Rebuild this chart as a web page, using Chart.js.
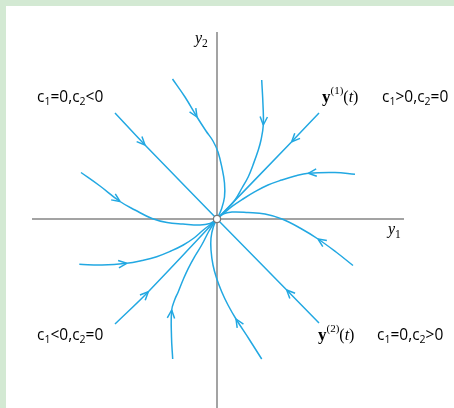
<!DOCTYPE html>
<html>
<head>
<meta charset="utf-8">
<script src="https://cdn.jsdelivr.net/npm/chart.js@4/dist/chart.umd.min.js"></script>
<style>
  html, body { margin: 0; padding: 0; }
  body { width: 454px; height: 408px; background: #d3e9d3; position: relative; overflow: hidden; }
  #wrap { position: absolute; left: 6px; top: 6px; width: 448px; height: 402px; background: #ffffff; }
  canvas { display: block; }
</style>
</head>
<body>
<div id="wrap"><canvas id="c" width="448" height="402"></canvas></div>
<script>
// Phase-plane trajectories of a stable improper node, y' = Ay.
// Each trajectory is a list of [y1, y2] points, ending at the origin.
// The arrowhead sits on the point named by the matching index.

// Eigen-solution lines
const lineY2upper = [[-10.2, 10.6], [-7.2, 7.4], [0, 0]];
const lineY1upper = [[10.2, 10.6], [7.47, 7.73], [0, 0]];
const lineY2lower = [[10.2, -10.4], [6.97, -7.1], [0, 0]];
const lineY1lower = [[-10.2, -10.5], [-6.87, -7.27], [0, 0]];

// Curved trajectories
const curveA = [[-4.45, 14.0], [-3.2, 12.2], [-2.0, 10.2], [-1.1, 8.8], [-0.4, 7.8], [0.1, 6.7], [0.5, 5.1], [0.75, 3.6], [0.75, 2.2], [0.45, 1.0], [0, 0]];
const curveB = [[-13.6, 4.65], [-11.7, 3.3], [-9.7, 1.75], [-8.2, 0.9], [-6.5, 0.05], [-5.0, -0.35], [-3.4, -0.5], [-1.7, -0.6], [-0.7, -0.45], [-0.2, -0.15], [0, 0]];
const curveC = [[4.47, 13.9], [4.6, 11.4], [4.63, 9.4], [4.4, 7.9], [4.13, 6.9], [3.6, 5.4], [3.13, 4.23], [2.5, 3.1], [1.8, 1.9], [1.0, 1.0], [0.4, 0.4], [0, 0]];
const curveD = [[13.8, 4.47], [11.8, 4.65], [9.13, 4.57], [7.8, 4.3], [6.47, 3.9], [5.1, 3.4], [3.8, 2.73], [2.6, 2.0], [1.47, 1.23], [0.6, 0.5], [0, 0]];
const curveE = [[13.6, -4.65], [11.9, -3.3], [10.1, -2.0], [8.3, -0.9], [6.5, 0], [4.8, 0.5], [3.1, 0.65], [1.5, 0.7], [0.6, 0.5], [0, 0]];
const curveF = [[4.47, -14.0], [3.2, -12.0], [1.9, -10.0], [1.1, -8.6], [0.47, -7.27], [-0.05, -5.9], [-0.4, -4.6], [-0.6, -3.1], [-0.6, -1.9], [-0.37, -0.8], [0, 0]];
const curveG = [[-4.43, -14.0], [-4.55, -11.8], [-4.53, -9.1], [-4.2, -8.0], [-3.87, -7.27], [-3.4, -6.1], [-2.87, -4.93], [-2.2, -3.7], [-1.53, -2.6], [-0.8, -1.2], [-0.3, -0.4], [0, 0]];
const curveH = [[-13.77, -4.53], [-11.5, -4.6], [-9.03, -4.43], [-7.5, -4.15], [-6.03, -3.77], [-4.6, -3.2], [-3.37, -2.6], [-2.3, -1.9], [-1.37, -1.1], [-0.6, -0.5], [0, 0]];

const trajectories = [lineY2upper, lineY1upper, lineY2lower, lineY1lower,
                      curveA, curveB, curveC, curveD, curveE, curveF, curveG, curveH];
const arrowIndex = [1, 1, 1, 1, 2, 2, 2, 2, 2, 2, 2, 2];

// Coordinate axes
const axisY1 = [[-18.5, 0], [18.7, 0]];
const axisY2 = [[0, 18.7], [0, -19.5]];
const origin = [[0, 0]];

const TRAJ = '#22a8e2';
const AXIS = '#858585';

const toXY = arr => arr.map(p => ({ x: p[0], y: p[1] }));

const datasets = [];
datasets.push({ data: toXY(origin), showLine: false, pointRadius: 3.6, pointBackgroundColor: '#ffffff',
                pointBorderColor: '#777777', pointBorderWidth: 1.3, order: -1 });
trajectories.forEach((t, k) => {
  datasets.push({ data: toXY(t), showLine: true, borderColor: TRAJ, borderWidth: 1.5,
                  pointRadius: 0, tension: 0.4, fill: false, arrowAt: arrowIndex[k], order: 1 });
});
datasets.push({ data: toXY(axisY1), showLine: true, borderColor: AXIS, borderWidth: 1.5, pointRadius: 0, order: 10 });
datasets.push({ data: toXY(axisY2), showLine: true, borderColor: AXIS, borderWidth: 1.5, pointRadius: 0, order: 10 });

// Text annotations, anchored in data coordinates (left edge, baseline)
const SANS = '"Open Sans", "DejaVu Sans", sans-serif';
const SERIF = '"Liberation Serif", "DejaVu Serif", serif';
const MAIN = '15.5px ' + SANS, SUB = '10.5px ' + SANS;
function caseLabel(op1, op2) {
  return [
    { t: 'c', f: MAIN }, { t: '1', f: SUB, dy: 3 },
    { t: op1 + ',', f: MAIN },
    { t: 'c', f: MAIN }, { t: '2', f: SUB, dy: 3 },
    { t: op2, f: MAIN }
  ];
}
function solLabel(n) {
  return [
    { t: 'y', f: 'bold 17px ' + SERIF }, { t: '(' + n + ')', f: '11px ' + SERIF, dy: -8 },
    { t: '(', f: '16px ' + SERIF }, { t: 't', f: 'italic 16px ' + SERIF }, { t: ')', f: '16px ' + SERIF }
  ];
}
const annotations = [
  { at: [-18.0, 11.7], parts: caseLabel('=0', '<0') },
  { at: [10.5, 11.7], parts: solLabel(1) },
  { at: [16.5, 11.7], parts: caseLabel('>0', '=0') },
  { at: [-18.0, -12.1], parts: caseLabel('<0', '=0') },
  { at: [10.1, -12.1], parts: solLabel(2) },
  { at: [16.0, -12.1], parts: caseLabel('=0', '>0') },
  { at: [-2.2, 17.6], parts: [ { t: 'y', f: 'italic 16px ' + SERIF }, { t: '2', f: '11.5px ' + SERIF, dy: 4 } ] },
  { at: [17.1, -1.5], parts: [ { t: 'y', f: 'italic 16px ' + SERIF }, { t: '1', f: '11.5px ' + SERIF, dy: 4 } ] }
];

const decorPlugin = {
  id: 'decor',
  afterDatasetsDraw(chart) {
    const ctx = chart.ctx;
    const sx = chart.scales.x, sy = chart.scales.y;
    const P = p => [sx.getPixelForValue(p.x), sy.getPixelForValue(p.y)];
    ctx.save();
    // open arrowheads pointing along the direction of motion
    chart.data.datasets.forEach(ds => {
      if (ds.arrowAt == null) return;
      const pts = ds.data, i = ds.arrowAt;
      const tip = P(pts[i]);
      const a = P(pts[Math.max(i - 1, 0)]);
      const b = P(pts[Math.min(i + 1, pts.length - 1)]);
      let dx = b[0] - a[0], dy = b[1] - a[1];
      const len = Math.hypot(dx, dy) || 1;
      dx /= len; dy /= len;
      const L = 9, ang = 0.42;
      ctx.strokeStyle = ds.borderColor;
      ctx.lineWidth = 1.5;
      ctx.beginPath();
      for (const s of [-1, 1]) {
        const c = Math.cos(s * ang), sn = Math.sin(s * ang);
        const rx = -dx * c + dy * sn, ry = -dx * sn - dy * c;
        ctx.moveTo(tip[0] + rx * L, tip[1] + ry * L);
        ctx.lineTo(tip[0], tip[1]);
      }
      ctx.stroke();
    });
    // text labels
    ctx.fillStyle = '#000000';
    ctx.textBaseline = 'alphabetic';
    ctx.textAlign = 'left';
    annotations.forEach(an => {
      let [x, y] = P({ x: an.at[0], y: an.at[1] });
      an.parts.forEach(p => {
        ctx.font = p.f;
        ctx.fillText(p.t, x, y + (p.dy || 0));
        x += ctx.measureText(p.t).width;
      });
    });
    ctx.restore();
  }
};

new Chart(document.getElementById('c'), {
  type: 'scatter',
  data: { datasets },
  options: {
    responsive: false,
    devicePixelRatio: 1,
    animation: false,
    layout: { padding: 0, autoPadding: false },
    plugins: { legend: { display: false }, tooltip: { enabled: false } },
    scales: {
      x: { type: 'linear', min: -21.1, max: 23.7, display: false },
      y: { type: 'linear', min: -18.9, max: 21.3, display: false }
    }
  },
  plugins: [decorPlugin]
});
</script>
</body>
</html>
